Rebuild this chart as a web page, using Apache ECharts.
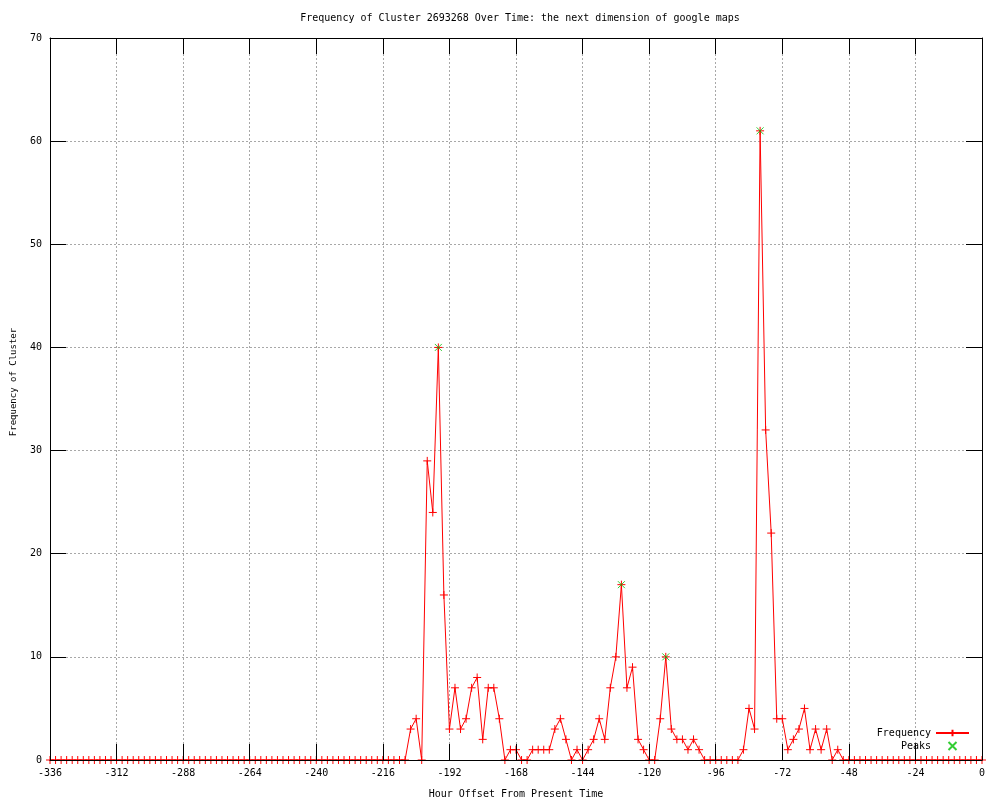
<!DOCTYPE html>
<html><head><meta charset="utf-8">
<script src="https://cdn.jsdelivr.net/npm/echarts@6/dist/echarts.min.js"></script>
<style>html,body{margin:0;padding:0;background:#fff}#c{width:1000px;height:800px}</style>
</head><body><div id="c"></div>
<script>
const titleText = 'Frequency of Cluster 2693268 Over Time: the next dimension of google maps';
const xName = 'Hour Offset From Present Time';
const yName = 'Frequency of Cluster';
const xMin = -336, xMax = 0, xInterval = 24, xStep = 2;
const yMin = 0, yMax = 70, yInterval = 10;

// frequency every 2 hours from -336 to 0
const freq = [
  0,0,0,0,0,0,0,0,0,0,0,0,0,
  0,0,0,0,0,0,0,0,0,0,0,0,0,
  0,0,0,0,0,0,0,0,0,0,0,0,0,
  0,0,0,0,0,0,0,0,0,0,0,0,0,
  0,0,0,0,0,0,0,0,0,0,0,0,0,
  3,4,0,29,24,40,16,3,7,3,4,7,8,2,7,7,4,0,1,1,
  0,0,1,1,1,1,3,4,2,0,1,0,1,2,4,2,7,10,17,7,
  9,2,1,0,0,4,10,3,2,2,1,2,1,0,
  0,0,0,0,0,0,
  1,5,3,61,32,22,4,4,1,2,3,5,1,3,1,3,0,1,
  0,0,0,0,0,0,0,0,0,0,0,0,0,
  0,0,0,0,0,0,0,0,0,0,0,0,0
];
const hours = freq.map((_, i) => xMin + i * xStep);

const peakHours = [-196, -130, -114, -80];
const peakValues = [40, 17, 10, 61];

const FONT = 'DejaVu Sans Mono';
const plusPath = 'path://M0,5L10,5M5,0L5,10';
const crossPath = 'path://M0,0L10,10M10,0L0,10';

const chart = echarts.init(document.getElementById('c'), null, {renderer: 'canvas'});

const borderAxisX = (pos, extra) => Object.assign({
  type: 'value', position: pos, min: xMin, max: xMax, interval: xInterval, z: 3,
  axisLine: {show: true, onZero: false, lineStyle: {color: '#000', width: 1}},
  axisTick: {show: true, inside: true, length: 16, lineStyle: {color: '#000', width: 1}},
  axisLabel: {show: false},
  splitLine: {show: false}
}, extra || {});
const borderAxisY = (pos, extra) => Object.assign({
  type: 'value', position: pos, min: yMin, max: yMax, interval: yInterval, z: 3,
  axisLine: {show: true, onZero: false, lineStyle: {color: '#000', width: 1}},
  axisTick: {show: true, inside: true, length: 16, lineStyle: {color: '#000', width: 1}},
  axisLabel: {show: false},
  splitLine: {show: false}
}, extra || {});

const option = {
  animation: false,
  backgroundColor: '#fff',
  title: {
    text: titleText, left: 515, top: 8, textAlign: 'center',
    textStyle: {fontFamily: FONT, fontSize: 10, fontWeight: 'normal', color: '#000'}
  },
  grid: {left: 50, right: 18, top: 38, bottom: 40, containLabel: false, outerBoundsMode: 'none'},
  legend: {
    orient: 'vertical', right: 30, top: 728, align: 'right', padding: 0,
    itemWidth: 33, itemHeight: 8, itemGap: 3,
    textStyle: {fontFamily: FONT, fontSize: 10, color: '#000'},
    data: ['Frequency', 'Peaks']
  },
  xAxis: [
    borderAxisX('bottom', {
      axisLabel: {show: true, color: '#000', fontFamily: FONT, fontSize: 10, margin: 8},
      name: xName, nameLocation: 'middle', nameGap: 29,
      nameTextStyle: {fontFamily: FONT, fontSize: 10, color: '#000'}
    }),
    borderAxisX('top'),
    {type: 'value', position: 'bottom', min: xMin, max: xMax, interval: xInterval, z: 0,
     axisLine: {show: false}, axisTick: {show: false}, axisLabel: {show: false},
     splitLine: {show: true, lineStyle: {color: '#a8a8a8', width: 1, type: [2, 2]}}}
  ],
  yAxis: [
    borderAxisY('left', {
      axisLabel: {show: true, color: '#000', fontFamily: FONT, fontSize: 10, margin: 8},
      name: yName, nameLocation: 'middle', nameGap: 32,
      nameTextStyle: {fontFamily: FONT, fontSize: 9, color: '#000', padding: [0, 0, 0, 34]}
    }),
    borderAxisY('right'),
    {type: 'value', position: 'left', min: yMin, max: yMax, interval: yInterval, z: 0,
     axisLine: {show: false}, axisTick: {show: false}, axisLabel: {show: false},
     splitLine: {show: true, lineStyle: {color: '#a8a8a8', width: 1, type: [2, 2]}}}
  ],
  series: [
    {
      name: 'Frequency', type: 'line', xAxisIndex: 0, yAxisIndex: 0,
      data: hours.map((h, i) => [h, freq[i]]),
      symbol: plusPath, symbolSize: 8, showAllSymbol: true,
      lineStyle: {color: '#ff0000', width: 1},
      itemStyle: {color: '#ff0000', borderColor: '#ff0000', borderWidth: 1},
      z: 2
    },
    {
      name: 'Peaks', type: 'scatter', xAxisIndex: 0, yAxisIndex: 0,
      data: peakHours.map((h, i) => [h, peakValues[i]]),
      symbol: crossPath, symbolSize: 7,
      itemStyle: {color: '#00c000', borderColor: '#00c000', borderWidth: 1},
      z: 4
    }
  ]
};
chart.setOption(option);
</script>
</body></html>
